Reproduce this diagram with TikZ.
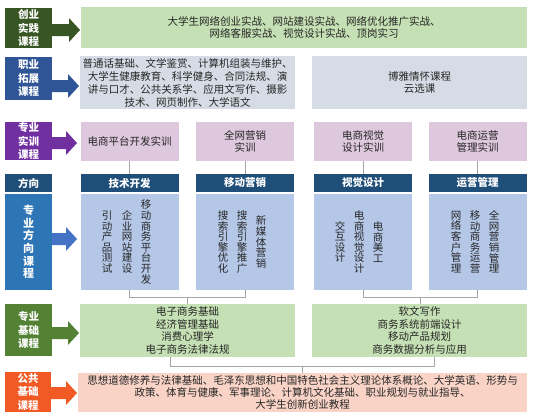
\documentclass[tikz,border=0pt]{standalone}
\usepackage{fontspec}
\setmainfont{Noto Sans CJK SC}
\usetikzlibrary{calc}
\definecolor{cyA}{HTML}{375623}
\definecolor{cyB}{HTML}{C5E0B4}
\definecolor{zyA}{HTML}{2F5597}
\definecolor{gyB}{HTML}{D6DCE5}
\definecolor{sxA}{HTML}{7030A0}
\definecolor{sxB}{HTML}{DDC8DD}
\definecolor{fxA}{HTML}{1F4E79}
\definecolor{fxL}{HTML}{2E75B6}
\definecolor{fxArr}{HTML}{4472C4}
\definecolor{fxB}{HTML}{B4C7E7}
\definecolor{jcA}{HTML}{548235}
\definecolor{ggA}{HTML}{F15A24}
\definecolor{ggB}{HTML}{F8D3C6}
\definecolor{txt}{HTML}{262626}
\definecolor{lnk}{HTML}{A6A6A6}
\newcommand{\blockarr}[4]{\fill[#1] (#2,#4-6) -- (#3-11,#4-6) -- (#3-11,#4-12) -- (#3,#4) -- (#3-11,#4+12) -- (#3-11,#4+6) -- (#2,#4+6) -- cycle;}
\tikzset{
  lbl/.style={fill=#1, text=white, font=\fontsize{10.5}{13.5}\selectfont\bfseries, align=center, inner sep=0pt, minimum width=47pt},
  box/.style={fill=#1, text=txt, font=\fontsize{10.5}{12.6}\selectfont, align=center, inner sep=0pt},
  hdr/.style={fill=fxA, text=white, font=\fontsize{10.5}{12}\selectfont\bfseries, inner sep=0pt, minimum width=98pt, minimum height=18pt},
  body/.style={fill=fxB, inner sep=0pt, minimum width=98pt, minimum height=96pt},
  vt/.style={text=txt, font=\fontsize{10.5}{10.6}\selectfont, align=center, inner sep=0pt},
  conn/.style={draw=lnk, line width=0.6pt},
}
\begin{document}
\begin{tikzpicture}[x=1pt,y=-1pt]
\useasboundingbox (0,0) rectangle (534,418);
\fill[white] (0,0) rectangle (534,418);
% row 1
\node[lbl=cyA, minimum height=40pt] (L1) at (28.5,28) {创业\\实践\\课程};
\node[box=cyB, minimum width=446pt, minimum height=41pt] (B1) at (304,27.5) {大学生网络创业实战、网站建设实战、网络优化推广实战、\\网络客服实战、视觉设计实战、顶岗实习};
\blockarr{cyA}{52}{80}{30}
% row 2
\node[lbl=zyA, minimum height=43pt] (L2) at (28.5,78.5) {职业\\拓展\\课程};
\node[box=gyB, minimum width=215pt, minimum height=53pt, font=\fontsize{10.5}{13}\selectfont] (B2) at (187.5,82.5) {普通话基础、文学鉴赏、计算机组装与维护、\\大学生健康教育、科学健身、合同法规、演\\讲与口才、公共关系学、应用文写作、摄影\\技术、网页制作、大学语文};
\node[box=gyB, minimum width=215pt, minimum height=53pt] (B3) at (419.5,82.5) {博雅情怀课程\\云选课};
\blockarr{zyA}{52}{79}{86}
% row 3
\node[lbl=sxA, minimum height=38pt] (L3) at (28.5,141) {专业\\实训\\课程};
\node[box=sxB, minimum width=98pt, minimum height=39pt] (P1) at (129.5,141.5) {电商平台开发实训};
\node[box=sxB, minimum width=98pt, minimum height=39pt] (P2) at (245,141.5) {全网营销\\实训};
\node[box=sxB, minimum width=98pt, minimum height=39pt] (P3) at (363,141.5) {电商视觉\\设计实训};
\node[box=sxB, minimum width=98pt, minimum height=39pt] (P4) at (477.5,141.5) {电商运营\\管理实训};
\blockarr{sxA}{52}{77}{143}
% row 4
\node[lbl=fxA, minimum height=18pt] (L4) at (28.5,183) {方向};
\node[lbl=fxL, minimum height=96pt, font=\fontsize{11}{12.7}\selectfont\bfseries] (L5) at (28.5,242) {专\\业\\方\\向\\课\\程};
\node[hdr] (H1) at (129.5,183) {技术开发};
\node[hdr] (H2) at (245,183) {移动营销};
\node[hdr] (H3) at (363,183) {视觉设计};
\node[hdr] (H4) at (477.5,183) {运营管理};
\node[body] (D1) at (129.5,242) {};
\node[body] (D2) at (245,242) {};
\node[body] (D3) at (363,242) {};
\node[body] (D4) at (477.5,242) {};
\blockarr{fxArr}{52}{77}{239}
\node[vt] (V11) at (107,242) {引\\动\\产\\品\\测\\试};
\node[vt] (V12) at (127,242) {企\\业\\网\\站\\建\\设};
\node[vt] (V13) at (146,242) {移\\动\\商\\务\\平\\台\\开\\发};
\node[vt] (V21) at (223,242) {搜\\索\\引\\擎\\优\\化};
\node[vt] (V22) at (242,242) {搜\\索\\引\\擎\\推\\广};
\node[vt] (V23) at (261,242) {新\\媒\\体\\营\\销};
\node[vt] (V31) at (340,242) {交\\互\\设\\计};
\node[vt] (V32) at (359,242) {电\\商\\视\\觉\\设\\计};
\node[vt] (V33) at (378,242) {电\\商\\美\\工};
\node[vt] (V41) at (456,242) {网\\络\\客\\户\\管\\理};
\node[vt] (V42) at (475,242) {移\\动\\商\\务\\运\\营};
\node[vt] (V43) at (494,242) {全\\网\\营\\销\\管\\理};
% row 5
\node[lbl=jcA, minimum height=52pt] (L6) at (28.5,330) {专业\\基础\\课程};
\node[box=cyB, minimum width=215pt, minimum height=53pt] (F1) at (187.5,330.5) {电子商务基础\\经济管理基础\\消费心理学\\电子商务法律法规};
\node[box=cyB, minimum width=215pt, minimum height=53pt] (F2) at (419.5,330.5) {软文写作\\商务系统前端设计\\移动产品规划\\商务数据分析与应用};
\blockarr{jcA}{52}{79}{333}
% row 6
\node[lbl=ggA, minimum width=46pt, minimum height=40pt] (L7) at (28,392) {公共\\基础\\课程};
\node[box=ggB, minimum width=449pt, minimum height=39pt, font=\fontsize{10.5}{12}\selectfont] (G) at (302.5,392.5) {思想道德修养与法律基础、毛泽东思想和中国特色社会主义理论体系概论、大学英语、形势与\\政策、体育与健康、军事理论、计算机文化基础、职业规划与就业指导、\\大学生创新创业教程};
\blockarr{ggA}{51}{77}{393}
% connectors
\foreach \i in {1,...,4} \draw[conn] (P\i.south) -- (H\i.north);
\coordinate (j1) at (187.5,297);
\coordinate (j2) at (420,297);
\draw[conn] (D1.south) -- (D1.south |- j1) -- (D2.south |- j1) -- (D2.south);
\draw[conn] (j1) -- (j1 |- F1.north);
\draw[conn] (D3.south) -- (D3.south |- j2) -- (D4.south |- j2) -- (D4.south);
\draw[conn] (j2) -- (j2 |- F2.north);
\coordinate (j3) at (302.5,366);
\draw[conn] ([xshift=-17.5pt]F1.south) -- ([xshift=-17.5pt]F1.south |- j3) -- ([xshift=14.5pt]F2.south |- j3) -- ([xshift=14.5pt]F2.south);
\draw[conn] (j3) -- (G.north);
\end{tikzpicture}
\end{document}
